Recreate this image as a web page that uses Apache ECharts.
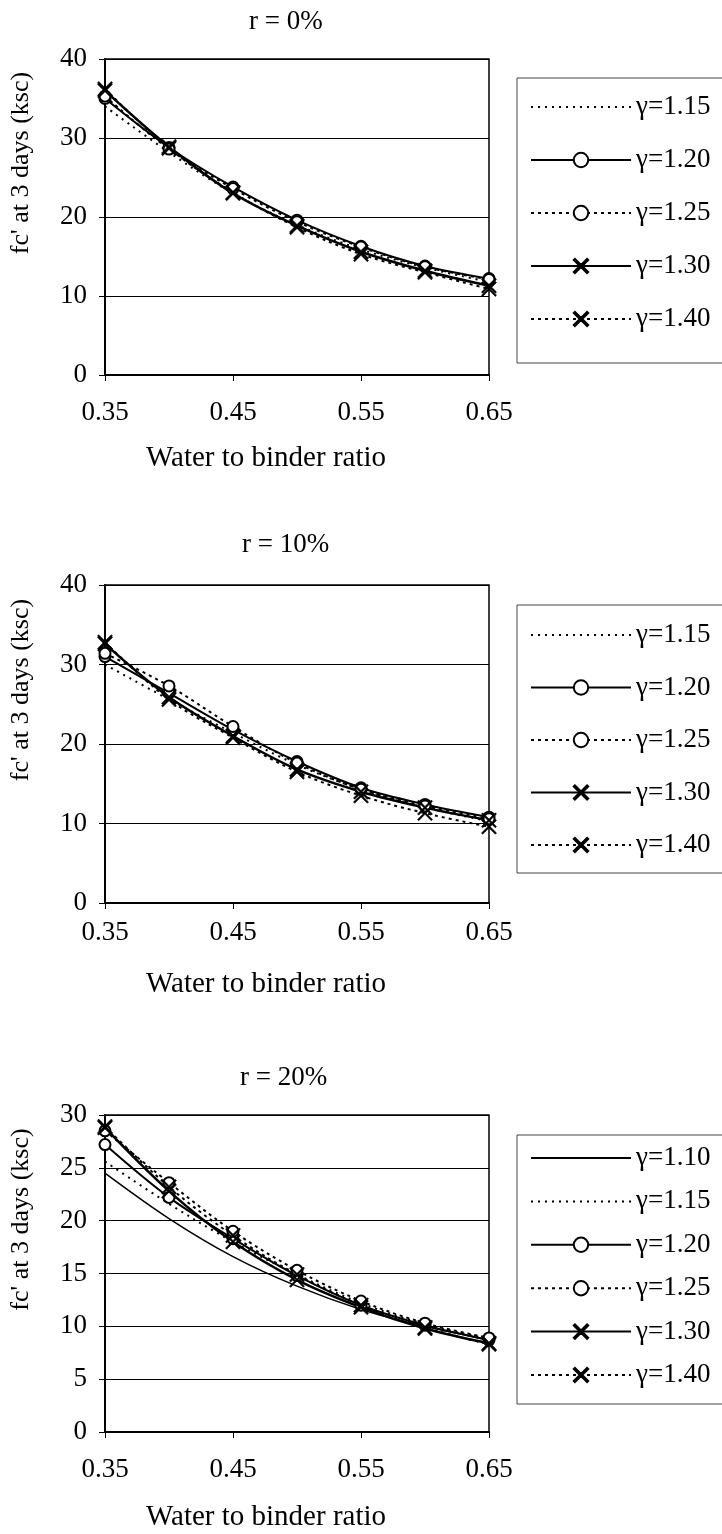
<!DOCTYPE html>
<html>
<head>
<meta charset="utf-8">
<script src="https://cdn.jsdelivr.net/npm/echarts@6/dist/echarts.min.js"></script>
<style>
  html, body { margin: 0; padding: 0; background: #fff; }
  #chart { width: 722px; height: 1534px; }
</style>
</head>
<body>
<div id="chart"></div>
<script>
// Water to binder ratio (x categories)
const wbRatio = ['0.35', '0.40', '0.45', '0.50', '0.55', '0.60', '0.65'];

// r = 0%
const r0g115 = [34.0, 28.2, 23.0, 19.0, 15.9, 13.6, 11.8];
const r0g120 = [35.0, 28.8, 23.8, 19.6, 16.3, 13.8, 12.2];
const r0g125 = [35.3, 28.6, 23.6, 19.4, 16.2, 13.7, 12.1];
const r0g130 = [36.0, 28.9, 23.0, 18.9, 15.6, 13.2, 11.3];
const r0g140 = [36.2, 28.7, 23.1, 18.7, 15.3, 13.0, 10.9];

// r = 10%
const r10g115 = [30.0, 25.6, 21.4, 17.4, 14.3, 12.0, 10.3];
const r10g120 = [31.0, 26.4, 21.8, 17.8, 14.5, 12.4, 10.8];
const r10g125 = [31.4, 27.3, 22.2, 17.6, 14.3, 12.2, 10.6];
const r10g130 = [32.6, 25.9, 21.0, 16.8, 14.0, 12.0, 10.4];
const r10g140 = [32.8, 25.6, 20.8, 16.5, 13.5, 11.3, 9.6];

// r = 20%
const r20g110 = [24.5, 20.2, 16.6, 13.8, 11.6, 10.0, 8.7];
const r20g115 = [25.6, 21.6, 18.0, 14.9, 12.2, 10.2, 8.8];
const r20g120 = [27.2, 22.2, 18.3, 14.8, 12.0, 10.1, 8.7];
const r20g125 = [28.5, 23.6, 19.0, 15.3, 12.4, 10.3, 8.9];
const r20g130 = [28.8, 22.8, 18.0, 14.4, 11.8, 9.8, 8.4];
const r20g140 = [28.9, 23.2, 18.6, 14.9, 12.0, 9.9, 8.3];

const panelTitles = ['r = 0%', 'r = 10%', 'r = 20%'];
const yMax = [40, 40, 30];
const yStep = [10, 10, 5];

const serif = 'Liberation Serif';
const crossPath = 'path://M0,0.8 L0.8,0 L5,4.2 L9.2,0 L10,0.8 L5.8,5 L10,9.2 L9.2,10 L5,5.8 L0.8,10 L0,9.2 L4.2,5 Z';

// line look for each gamma
const styles = {
    'γ=1.10': { type: 'solid', width: 1.5, symbol: 'none' },
    'γ=1.15': { type: [2, 5], width: 2, symbol: 'none' },
    'γ=1.20': { type: 'solid', width: 2, symbol: 'emptyCircle', size: 11, border: 1.5 },
    'γ=1.25': { type: [3, 4], width: 2, symbol: 'emptyCircle', size: 11, border: 1.5 },
    'γ=1.30': { type: 'solid', width: 2.5, symbol: crossPath, size: 15, border: 0.6 },
    'γ=1.40': { type: [3, 4], width: 2, symbol: crossPath, size: 15, border: 0.6 }
};

const panels = [
    { 'γ=1.15': r0g115, 'γ=1.20': r0g120, 'γ=1.25': r0g125, 'γ=1.30': r0g130, 'γ=1.40': r0g140 },
    { 'γ=1.15': r10g115, 'γ=1.20': r10g120, 'γ=1.25': r10g125, 'γ=1.30': r10g130, 'γ=1.40': r10g140 },
    { 'γ=1.10': r20g110, 'γ=1.15': r20g115, 'γ=1.20': r20g120, 'γ=1.25': r20g125, 'γ=1.30': r20g130, 'γ=1.40': r20g140 }
];

// layout of the three panels
const gridTop = [59, 585, 1115];
const gridHeight = [316, 318, 317];
const titleLeft = [249, 242, 240];
const titleTop = [8, 531, 1064];
const labelMargin = [24, 16, 24];
const nameGapX = [69, 67, 71];
const legendTop = [78, 605, 1135];
const legendPad = [[14, 40, 29, 13], [15, 40, 13, 13], [8, 40, 14, 13]];
const legendGap = [23, 22.5, 13.4];

const chart = echarts.init(document.getElementById('chart'));

const series = [];
panels.forEach(function(panel, p) {
    Object.keys(panel).forEach(function(name) {
        const st = styles[name];
        series.push({
            name: name,
            type: 'line',
            xAxisIndex: p,
            yAxisIndex: p,
            data: panel[name],
            smooth: 0.35,
            symbol: st.symbol,
            symbolSize: st.size || 0,
            showSymbol: st.symbol !== 'none',
            lineStyle: { color: '#000', width: st.width, type: st.type },
            itemStyle: { color: '#000', borderColor: '#000', borderWidth: st.border || 0 },
            emphasis: { disabled: true },
            animation: false
        });
    });
});

const option = {
    backgroundColor: '#fff',
    textStyle: { fontFamily: serif, color: '#000' },
    title: panelTitles.map(function(t, p) {
        return {
            text: t,
            left: titleLeft[p],
            top: titleTop[p],
            padding: 0,
            textStyle: { fontFamily: serif, fontSize: 27, fontWeight: 'normal', color: '#000' }
        };
    }),
    grid: gridTop.map(function(top, p) {
        return {
            left: 104, right: 233, top: top, height: gridHeight[p],
            show: true, borderColor: '#000', borderWidth: 1.5, backgroundColor: 'transparent'
        };
    }),
    xAxis: gridTop.map(function(top, p) {
        return {
            type: 'category',
            gridIndex: p,
            data: wbRatio,
            boundaryGap: false,
            name: 'Water to binder ratio',
            nameLocation: 'middle',
            nameGap: nameGapX[p],
            nameTextStyle: { fontFamily: serif, fontSize: 29, color: '#000', padding: [0, 62, 0, 0] },
            axisLine: { lineStyle: { color: '#000', width: 2 } },
            axisTick: { interval: 1, length: 6, lineStyle: { color: '#000', width: 1 } },
            axisLabel: { interval: 1, margin: labelMargin[p], fontFamily: serif, fontSize: 27, color: '#000' },
            splitLine: { show: false }
        };
    }),
    yAxis: gridTop.map(function(top, p) {
        return {
            type: 'value',
            gridIndex: p,
            min: 0,
            max: yMax[p],
            interval: yStep[p],
            name: "fc' at 3 days (ksc)",
            nameLocation: 'middle',
            nameGap: 71,
            nameTextStyle: { fontFamily: serif, fontSize: 26, color: '#000', padding: [0, 0, 0, 108] },
            axisLine: { show: true, lineStyle: { color: '#000', width: 2 } },
            axisTick: { show: true, length: 6, lineStyle: { color: '#000', width: 1 } },
            axisLabel: { margin: 18, fontFamily: serif, fontSize: 27, color: '#000' },
            splitLine: { show: true, lineStyle: { color: '#000', width: 1 } }
        };
    }),
    legend: panels.map(function(panel, p) {
        return {
            orient: 'vertical',
            left: 517,
            top: legendTop[p],
            padding: legendPad[p],
            itemGap: legendGap[p],
            itemWidth: 100,
            itemHeight: 18,
            borderColor: '#444',
            borderWidth: 1,
            selectedMode: false,
            data: Object.keys(panel).map(function(name) {
                const item = { name: name };
                if (styles[name].symbol === 'none') item.itemStyle = { opacity: 0 };
                return item;
            }),
            textStyle: { fontFamily: serif, fontSize: 27, color: '#000', lineHeight: 30 }
        };
    }),
    series: series
};

chart.setOption(option);
</script>
</body>
</html>
